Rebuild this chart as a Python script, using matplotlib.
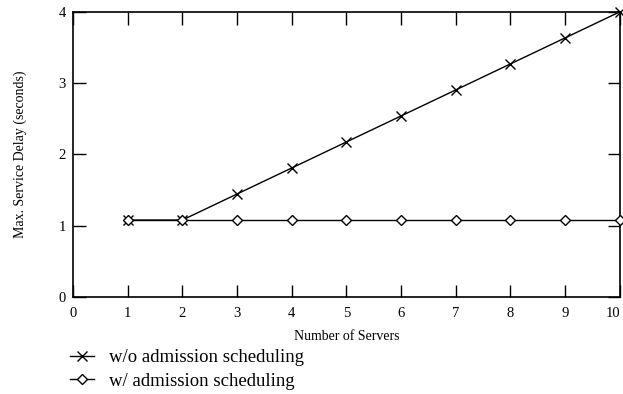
import matplotlib
matplotlib.use("Agg")
import matplotlib.pyplot as plt

servers = [1, 2, 3, 4, 5, 6, 7, 8, 9, 10]
without_sched = [1.08, 1.08, 1.445, 1.81, 2.175, 2.54, 2.905, 3.27, 3.635, 4.0]
with_sched = [1.08, 1.08, 1.08, 1.08, 1.08, 1.08, 1.08, 1.08, 1.08, 1.08]
xticks = [0, 1, 2, 3, 4, 5, 6, 7, 8, 9, 10]
yticks = [0, 1, 2, 3, 4]

plt.rcParams['font.family'] = ['Liberation Serif', 'DejaVu Serif']

fig = plt.figure(figsize=(6.23, 3.94), dpi=100)
ax = fig.add_axes([0.117, 0.246, 0.878, 0.724])

ax.plot(servers, without_sched, color='black', lw=1.0, marker='x', ms=7, mew=1.0,
        label='w/o admission scheduling', clip_on=False, zorder=3)
ax.plot(servers, with_sched, color='black', lw=1.0, marker='D', ms=5, mew=1.0,
        mfc='white', label='w/ admission scheduling', clip_on=False, zorder=3)

ax.set_xlim(0, 10)
ax.set_ylim(0, 4)
ax.set_xticks(xticks)
ax.set_yticks(yticks)
ax.tick_params(direction='in', length=9, width=1.0, top=True, right=True,
               labelsize=10.5, color='black')
ax.tick_params(axis='x', pad=7)
ax.tick_params(axis='y', pad=5)
xl = ax.get_xticklabels()
xl[-1].set_horizontalalignment('right')
for s in ax.spines.values():
    s.set_linewidth(1.2)

ax.set_xlabel('Number of Servers', fontsize=10, labelpad=7)
ax.set_ylabel('Max. Service Delay (seconds)', fontsize=10, labelpad=23)

leg = fig.legend(loc='upper left', bbox_to_anchor=(0.112, 0.114), frameon=False,
                 fontsize=13.5, handlelength=1.3, handletextpad=0.8,
                 labelspacing=0.33, borderaxespad=0, borderpad=0)

fig.savefig('out.png', dpi=100)
